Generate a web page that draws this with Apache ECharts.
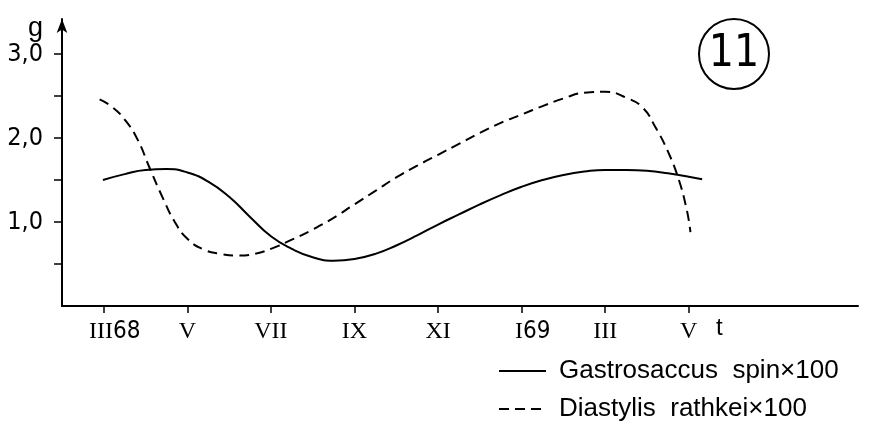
<!DOCTYPE html>
<html>
<head>
<meta charset="utf-8">
<script src="https://cdn.jsdelivr.net/npm/echarts@6/dist/echarts.min.js"></script>
<style>
html,body{margin:0;padding:0;background:#fff;}
#chart{width:877px;height:423px;}
</style>
</head>
<body>
<div id="chart"></div>
<script>
// ---- data (month index: 0 = March 1968, 14 = May 1969) ----
const xTickMonths = [0, 2, 4, 6, 8, 10, 12, 14];
const xTickRoman = ['III', 'V', 'VII', 'IX', 'XI', 'I', 'III', 'V'];
const xTickYear = ['68', '', '', '', '', '69', '', ''];
const yTickValues = [0.5, 1.0, 1.5, 2.0, 2.5, 3.0];
const yLabelValues = [1.0, 2.0, 3.0];

const gastroMonths = [-0.02, 0.5, 1.0, 1.5, 2.0, 2.5, 3.0, 3.5, 4.0, 4.5, 5.0, 5.5, 6.0, 6.5, 7.0, 7.5, 8.0, 8.5, 9.0, 9.5, 10.0, 10.5, 11.0, 11.5, 12.0, 12.5, 13.0, 13.5, 14.0, 14.32];
const gastroValues = [1.50, 1.57, 1.62, 1.63, 1.59, 1.48, 1.30, 1.06, 0.83, 0.68, 0.58, 0.54, 0.56, 0.62, 0.72, 0.84, 0.97, 1.09, 1.21, 1.32, 1.42, 1.50, 1.56, 1.60, 1.62, 1.62, 1.61, 1.58, 1.54, 1.51];

const diastMonths = [-0.10, 0.2, 0.5, 0.8, 1.1, 1.4, 1.7, 2.0, 2.4, 2.8, 3.2, 3.6, 4.0, 4.5, 5.0, 5.5, 6.0, 6.5, 7.0, 7.5, 8.0, 8.5, 9.0, 9.5, 10.0, 10.5, 11.0, 11.5, 12.0, 12.5, 12.9, 13.2, 13.5, 13.75, 13.95, 14.04];
const diastValues = [2.46, 2.37, 2.22, 1.99, 1.64, 1.30, 1.00, 0.80, 0.67, 0.62, 0.60, 0.62, 0.68, 0.79, 0.91, 1.05, 1.21, 1.37, 1.53, 1.67, 1.80, 1.93, 2.06, 2.18, 2.28, 2.38, 2.47, 2.54, 2.55, 2.48, 2.36, 2.13, 1.84, 1.52, 1.15, 0.88];

const seriesNames = ['Gastrosaccus  spin\u00d7100', 'Diastylis  rathkei\u00d7100'];

const pairs = (xs, ys) => xs.map((x, i) => [x, ys[i]]);

const SANS_N = '"Liberation Sans Narrow", "DejaVu Sans Condensed", "Liberation Sans", sans-serif';
const SANS = '"Liberation Sans", "DejaVu Sans", sans-serif';
const SERIF = '"Liberation Serif", "DejaVu Serif", serif';

const legendBase = {
  orient: 'vertical',
  left: 493,
  itemWidth: 47, itemHeight: 14,
  itemStyle: {opacity: 0},
  textStyle: {fontFamily: SANS, fontSize: 26, lineHeight: 28, color: '#000', padding: [0, 0, 0, 8]}
};

const chart = echarts.init(document.getElementById('chart'), null, {renderer: 'canvas'});
chart.setOption({
  animation: false,
  backgroundColor: '#fff',
  grid: {left: 62, top: 19, width: 796, height: 287, containLabel: false},
  xAxis: {
    type: 'value', min: -1, max: 18.05,
    splitLine: {show: false},
    axisLine: {onZero: true, lineStyle: {color: '#000', width: 2}},
    axisTick: {customValues: xTickMonths, length: 7, lineStyle: {color: '#000', width: 1.5}},
    axisLabel: {
      customValues: xTickMonths,
      margin: 14,
      color: '#000',
      formatter: function (v) {
        const i = xTickMonths.indexOf(Math.round(v));
        if (i < 0) return '';
        const yr = xTickYear[i];
        return (yr ? '{p|}' : '') + '{r|' + xTickRoman[i] + '}' + (yr ? '{s|' + yr + '}' : '');
      },
      rich: {
        r: {fontFamily: SERIF, fontSize: 24, color: '#000'},
        s: {fontFamily: SANS_N, fontSize: 24, color: '#000'},
        p: {width: 22}
      }
    }
  },
  yAxis: {
    type: 'value', min: 0, max: 287 / 84,
    splitLine: {show: false},
    axisLine: {onZero: false, lineStyle: {color: '#000', width: 2}, symbol: ['none', 'arrow'], symbolSize: [8, 14]},
    axisTick: {customValues: yTickValues, length: 8, lineStyle: {color: '#000', width: 1.5}},
    axisLabel: {
      customValues: yLabelValues,
      margin: 19,
      color: '#000',
      fontFamily: SANS_N,
      fontSize: 25,
      padding: [8, 0, 0, 0],
      formatter: v => v.toFixed(1).replace('.', ',')
    }
  },
  legend: [
    Object.assign({}, legendBase, {top: 352, data: [seriesNames[0]]}),
    Object.assign({}, legendBase, {top: 390, data: [seriesNames[1]]})
  ],
  series: [
    {
      name: seriesNames[0], type: 'line', smooth: 0.5, symbol: 'none', showSymbol: false,
      lineStyle: {color: '#000', width: 2},
      itemStyle: {color: '#000'},
      data: pairs(gastroMonths, gastroValues)
    },
    {
      name: seriesNames[1], type: 'line', smooth: 0.5, symbol: 'none', showSymbol: false,
      lineStyle: {color: '#000', width: 2, type: [10, 6]},
      itemStyle: {color: '#000'},
      data: pairs(diastMonths, diastValues)
    }
  ],
  graphic: [
    {type: 'text', left: 28, top: 15, style: {text: 'g', fontFamily: SANS, fontSize: 27, fill: '#000'}},
    {type: 'text', left: 716, top: 316, style: {text: 't', fontFamily: SANS, fontSize: 24, fill: '#000'}},
    {type: 'circle', shape: {cx: 734, cy: 54, r: 35}, style: {fill: 'none', stroke: '#000', lineWidth: 2}},
    {type: 'text', x: 734, y: 55, style: {text: '11', fontFamily: SANS_N, fontSize: 44, fill: '#000', align: 'center', verticalAlign: 'middle'}}
  ]
});
</script>
</body>
</html>
